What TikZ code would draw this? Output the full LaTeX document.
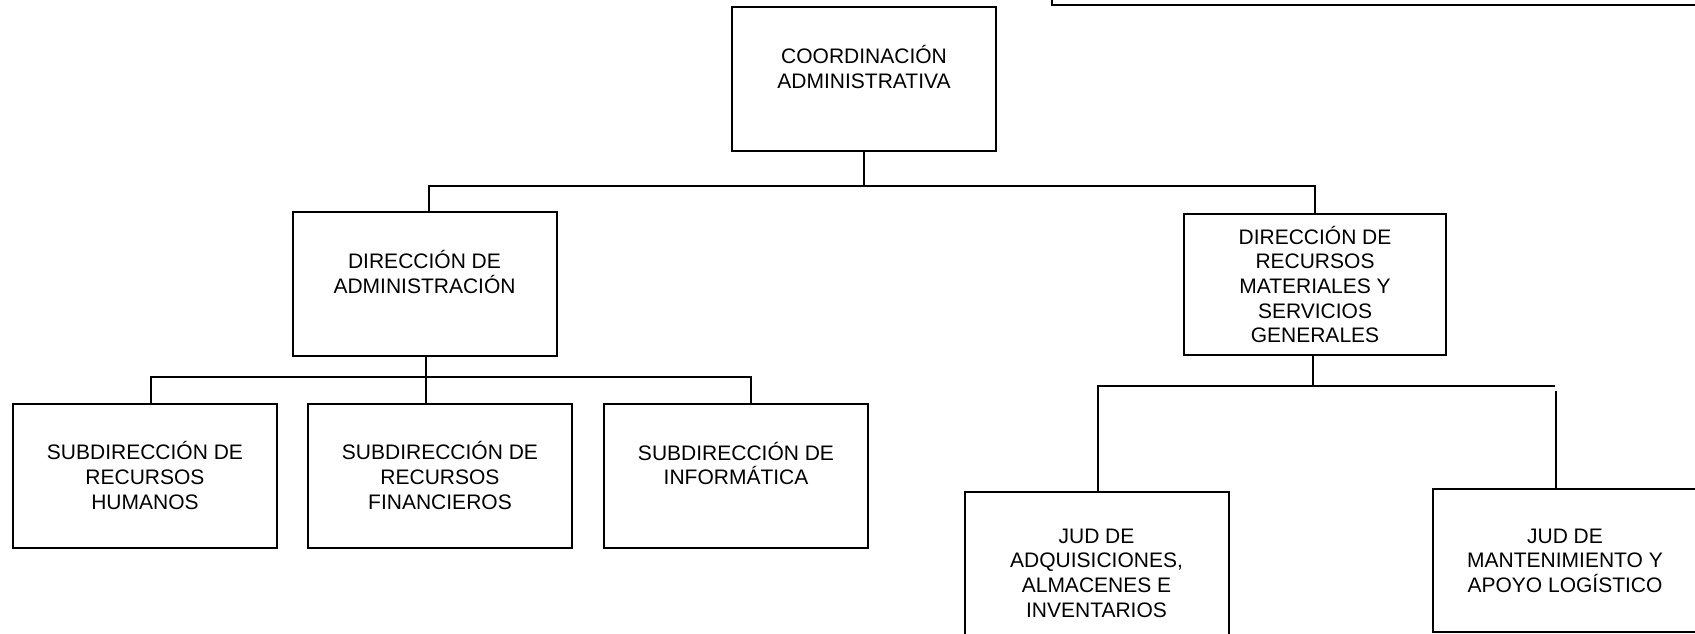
\documentclass[tikz,border=0pt]{standalone}
\usepackage{fontspec}
\setmainfont{Liberation Sans}
\begin{document}
\begin{tikzpicture}[x=1pt,y=-1pt,
  box/.style={draw, line width=2pt, minimum width=264pt, minimum height=144pt,
    inner sep=0pt, align=center, font=\fontsize{21}{24.6}\selectfont},
  conn/.style={line width=1.8pt}]
\useasboundingbox (0,0) rectangle (1695,634);
\clip (0,0) rectangle (1695,634);
% boxes
\node[box, anchor=south west, minimum width=700pt, minimum height=80pt] (title) at (1051,6) {};
\node[box] (coord) at (864,79) {COORDINACIÓN\\ADMINISTRATIVA\\\mbox{}};
\node[box] (dadm) at (424.5,284) {DIRECCIÓN DE\\ADMINISTRACIÓN\\\mbox{}};
\node[box] (s1) at (145,475.5) {SUBDIRECCIÓN DE\\RECURSOS\\HUMANOS};
\node[box] (s2) at (440,475.5) {SUBDIRECCIÓN DE\\RECURSOS\\FINANCIEROS};
\node[box] (s3) at (736,475.5) {SUBDIRECCIÓN DE\\INFORMÁTICA\\\mbox{}};
\node[box, minimum width=262pt, minimum height=141pt] (drm) at (1315,284.5)
  {DIRECCIÓN DE\\RECURSOS\\MATERIALES Y\\SERVICIOS\\GENERALES};
\node[box, minimum height=162pt] (j1) at (1096.5,573)
  {JUD DE\\ADQUISICIONES,\\ALMACENES E\\INVENTARIOS};
\node[box, minimum height=143pt] (j2) at (1565,560.5)
  {JUD DE\\MANTENIMIENTO Y\\APOYO LOGÍSTICO};
% connectors
\coordinate (bus1) at (0,186);
\coordinate (bus2) at (0,377);
\coordinate (bus3) at (0,386);
\coordinate (gapL) at (1555,386);
\coordinate (gapR) at (1556,391);
\draw[conn] (coord.south) -- (coord.south |- bus1);
\draw[conn] ([xshift=4.5pt]dadm.north) |- (drm.north |- bus1) -- (drm.north);
\draw[conn] ([xshift=1.5pt]dadm.south) -- ([xshift=-14pt]s2.north);
\draw[conn] ([xshift=6pt]s1.north) |- ([xshift=15pt]s3.north |- bus2) -- ([xshift=15pt]s3.north);
\draw[conn] ([xshift=-2pt]drm.south) -- ([xshift=-2pt]drm.south |- bus3);
\draw[conn] ([xshift=1.5pt]j1.north) |- (gapL);
\draw[conn] (gapR) -- (gapR |- j2.north);
\end{tikzpicture}
\end{document}
